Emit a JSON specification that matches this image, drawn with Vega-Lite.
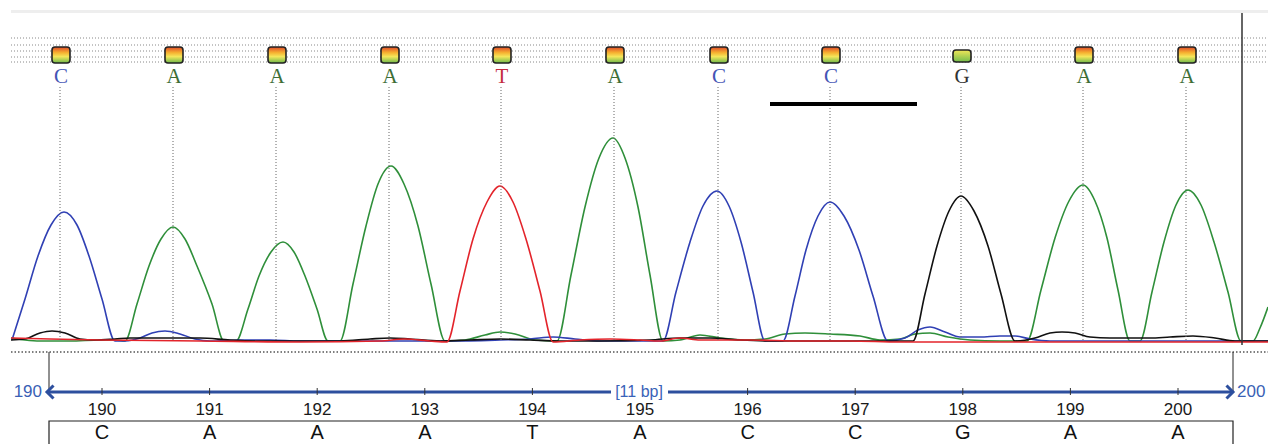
{
"$schema": "https://vega.github.io/schema/vega-lite/v6.json",
"width": 1268, "height": 444, "padding": 0,
"autosize": {"type": "none"},
"background": "white",
"config": {"view": {"stroke": null}},
"datasets": {
"traces": [
{"ch":"A","s":11,"v":4},{"ch":"A","s":25,"v":2},{"ch":"A","s":40,"v":1},{"ch":"A","s":70,"v":1},{"ch":"A","s":100,"v":2},{"ch":"A","s":115,"v":2},{"ch":"A","s":125,"v":1},
{"ch":"A","s":137,"v":38},{"ch":"A","s":149,"v":76},{"ch":"A","s":161,"v":103},{"ch":"A","s":173,"v":115},{"ch":"A","s":185,"v":103},{"ch":"A","s":197,"v":76},{"ch":"A","s":212,"v":38},{"ch":"A","s":224,"v":1},
{"ch":"A","s":236,"v":1},{"ch":"A","s":248,"v":33},{"ch":"A","s":259,"v":66},{"ch":"A","s":271,"v":90},{"ch":"A","s":283,"v":100},{"ch":"A","s":294,"v":90},{"ch":"A","s":305,"v":66},{"ch":"A","s":317,"v":33},{"ch":"A","s":328,"v":1},
{"ch":"A","s":340,"v":1},{"ch":"A","s":353,"v":58},{"ch":"A","s":366,"v":116},{"ch":"A","s":378,"v":158},{"ch":"A","s":391,"v":176},{"ch":"A","s":404,"v":158},{"ch":"A","s":418,"v":116},{"ch":"A","s":431,"v":58},{"ch":"A","s":445,"v":1},
{"ch":"A","s":465,"v":2},{"ch":"A","s":485,"v":7},{"ch":"A","s":500,"v":10},{"ch":"A","s":515,"v":8},{"ch":"A","s":535,"v":2},{"ch":"A","s":557,"v":1},
{"ch":"A","s":571,"v":67},{"ch":"A","s":585,"v":135},{"ch":"A","s":599,"v":184},{"ch":"A","s":613,"v":204},{"ch":"A","s":625,"v":184},{"ch":"A","s":638,"v":135},{"ch":"A","s":650,"v":67},{"ch":"A","s":663,"v":1},
{"ch":"A","s":680,"v":2},{"ch":"A","s":700,"v":7},{"ch":"A","s":720,"v":4},{"ch":"A","s":745,"v":2},{"ch":"A","s":765,"v":3},{"ch":"A","s":785,"v":8},{"ch":"A","s":805,"v":9},{"ch":"A","s":830,"v":8},{"ch":"A","s":860,"v":6},{"ch":"A","s":880,"v":2},{"ch":"A","s":900,"v":3},{"ch":"A","s":915,"v":8},{"ch":"A","s":930,"v":9},{"ch":"A","s":948,"v":5},{"ch":"A","s":970,"v":2},{"ch":"A","s":1000,"v":1},{"ch":"A","s":1027,"v":1},
{"ch":"A","s":1041,"v":52},{"ch":"A","s":1055,"v":104},{"ch":"A","s":1069,"v":141},{"ch":"A","s":1083,"v":157},{"ch":"A","s":1095,"v":141},{"ch":"A","s":1107,"v":104},{"ch":"A","s":1118,"v":52},{"ch":"A","s":1130,"v":1},
{"ch":"A","s":1140,"v":1},{"ch":"A","s":1152,"v":50},{"ch":"A","s":1164,"v":100},{"ch":"A","s":1176,"v":137},{"ch":"A","s":1188,"v":152},{"ch":"A","s":1201,"v":137},{"ch":"A","s":1214,"v":100},{"ch":"A","s":1228,"v":50},{"ch":"A","s":1241,"v":1},
{"ch":"A","s":1253,"v":1},{"ch":"A","s":1260,"v":14},{"ch":"A","s":1268,"v":35},
{"ch":"C","s":12,"v":2},{"ch":"C","s":25,"v":43},{"ch":"C","s":38,"v":86},{"ch":"C","s":51,"v":117},{"ch":"C","s":64,"v":130},{"ch":"C","s":77,"v":117},{"ch":"C","s":89,"v":86},{"ch":"C","s":102,"v":43},{"ch":"C","s":115,"v":1},
{"ch":"C","s":125,"v":1},{"ch":"C","s":140,"v":4},{"ch":"C","s":152,"v":9},{"ch":"C","s":165,"v":11},{"ch":"C","s":180,"v":8},{"ch":"C","s":195,"v":3},{"ch":"C","s":210,"v":1},{"ch":"C","s":240,"v":2},{"ch":"C","s":270,"v":2},{"ch":"C","s":300,"v":1},{"ch":"C","s":350,"v":1},{"ch":"C","s":400,"v":1},{"ch":"C","s":450,"v":1},{"ch":"C","s":500,"v":2},{"ch":"C","s":530,"v":3},{"ch":"C","s":553,"v":5},{"ch":"C","s":575,"v":3},{"ch":"C","s":600,"v":1},{"ch":"C","s":640,"v":1},{"ch":"C","s":663,"v":1},
{"ch":"C","s":676,"v":50},{"ch":"C","s":690,"v":100},{"ch":"C","s":703,"v":136},{"ch":"C","s":717,"v":151},{"ch":"C","s":729,"v":136},{"ch":"C","s":741,"v":100},{"ch":"C","s":753,"v":50},{"ch":"C","s":765,"v":1},
{"ch":"C","s":783,"v":1},{"ch":"C","s":795,"v":46},{"ch":"C","s":806,"v":92},{"ch":"C","s":818,"v":126},{"ch":"C","s":830,"v":140},{"ch":"C","s":844,"v":126},{"ch":"C","s":859,"v":92},{"ch":"C","s":873,"v":46},{"ch":"C","s":888,"v":1},
{"ch":"C","s":905,"v":4},{"ch":"C","s":918,"v":12},{"ch":"C","s":930,"v":15},{"ch":"C","s":945,"v":10},{"ch":"C","s":960,"v":5},{"ch":"C","s":980,"v":5},{"ch":"C","s":1000,"v":6},{"ch":"C","s":1015,"v":6},{"ch":"C","s":1030,"v":3},{"ch":"C","s":1050,"v":1},{"ch":"C","s":1150,"v":1},{"ch":"C","s":1268,"v":1},
{"ch":"G","s":11,"v":2},{"ch":"G","s":25,"v":3},{"ch":"G","s":40,"v":9},{"ch":"G","s":52,"v":11},{"ch":"G","s":65,"v":9},{"ch":"G","s":80,"v":3},{"ch":"G","s":95,"v":2},{"ch":"G","s":115,"v":3},{"ch":"G","s":130,"v":4},{"ch":"G","s":160,"v":4},{"ch":"G","s":200,"v":4},{"ch":"G","s":230,"v":2},{"ch":"G","s":260,"v":1},{"ch":"G","s":300,"v":1},{"ch":"G","s":340,"v":1},{"ch":"G","s":370,"v":3},{"ch":"G","s":390,"v":4},{"ch":"G","s":410,"v":3},{"ch":"G","s":440,"v":1},{"ch":"G","s":470,"v":2},{"ch":"G","s":500,"v":3},{"ch":"G","s":530,"v":2},{"ch":"G","s":560,"v":1},{"ch":"G","s":600,"v":1},{"ch":"G","s":650,"v":2},{"ch":"G","s":680,"v":4},{"ch":"G","s":710,"v":4},{"ch":"G","s":740,"v":2},{"ch":"G","s":770,"v":1},{"ch":"G","s":800,"v":1},{"ch":"G","s":850,"v":1},{"ch":"G","s":890,"v":1},{"ch":"G","s":913,"v":1},
{"ch":"G","s":925,"v":48},{"ch":"G","s":937,"v":96},{"ch":"G","s":949,"v":131},{"ch":"G","s":961,"v":146},{"ch":"G","s":974,"v":131},{"ch":"G","s":988,"v":96},{"ch":"G","s":1001,"v":48},{"ch":"G","s":1015,"v":1},
{"ch":"G","s":1035,"v":4},{"ch":"G","s":1050,"v":9},{"ch":"G","s":1062,"v":10},{"ch":"G","s":1075,"v":9},{"ch":"G","s":1090,"v":5},{"ch":"G","s":1110,"v":4},{"ch":"G","s":1150,"v":4},{"ch":"G","s":1170,"v":5},{"ch":"G","s":1193,"v":6},{"ch":"G","s":1215,"v":4},{"ch":"G","s":1235,"v":1},{"ch":"G","s":1268,"v":1},
{"ch":"T","s":11,"v":4},{"ch":"T","s":50,"v":3},{"ch":"T","s":100,"v":2},{"ch":"T","s":200,"v":1},{"ch":"T","s":300,"v":0},{"ch":"T","s":380,"v":1},{"ch":"T","s":405,"v":3},{"ch":"T","s":430,"v":1},{"ch":"T","s":447,"v":0},
{"ch":"T","s":460,"v":51},{"ch":"T","s":473,"v":103},{"ch":"T","s":487,"v":140},{"ch":"T","s":500,"v":156},{"ch":"T","s":513,"v":140},{"ch":"T","s":526,"v":103},{"ch":"T","s":540,"v":51},{"ch":"T","s":553,"v":0},
{"ch":"T","s":580,"v":2},{"ch":"T","s":610,"v":3},{"ch":"T","s":640,"v":2},{"ch":"T","s":660,"v":1},{"ch":"T","s":680,"v":4},{"ch":"T","s":700,"v":2},{"ch":"T","s":750,"v":2},{"ch":"T","s":800,"v":1},{"ch":"T","s":850,"v":1},{"ch":"T","s":900,"v":0},{"ch":"T","s":1268,"v":0}
],
"calls": [
{"s":60,"base":"C","q":295},{"s":173,"base":"A","q":295},{"s":276,"base":"A","q":295},{"s":389,"base":"A","q":295},{"s":501,"base":"T","q":295},{"s":614,"base":"A","q":295},{"s":718,"base":"C","q":295},{"s":830,"base":"C","q":295},{"s":961,"base":"G","q":292},{"s":1083,"base":"A","q":295},{"s":1186,"base":"A","q":295}
],
"ruler": [
{"pos":190,"s":102,"b":"C"},{"pos":191,"s":209.6,"b":"A"},{"pos":192,"s":317.2,"b":"A"},{"pos":193,"s":424.8,"b":"A"},{"pos":194,"s":532.4,"b":"T"},{"pos":195,"s":640,"b":"A"},{"pos":196,"s":747.6,"b":"C"},{"pos":197,"s":855.2,"b":"C"},{"pos":198,"s":962.8,"b":"G"},{"pos":199,"s":1070.4,"b":"A"},{"pos":200,"s":1178,"b":"A"}
]
},
"layer": [
{"data": {"name": "traces"},
 "mark": {"type": "line", "strokeWidth": 1.6, "interpolate": "monotone"},
 "encoding": {"x": {"field": "s", "type": "quantitative", "scale": {"domain": [0, 1268], "nice": false, "zero": false}, "axis": null},
  "y": {"field": "v", "type": "quantitative", "scale": {"domain": [-102, 342], "nice": false, "zero": false}, "axis": null},
  "color": {"field": "ch", "type": "nominal", "legend": null, "scale": {"domain": ["A", "C", "G", "T"], "range": ["#2f8f3a", "#3040b4", "#111111", "#e3242b"]}}}},
{"data": {"values": [{"r": 330.5}]},
 "mark": {"type": "rule", "color": "#eeeeee", "strokeWidth": 3},
 "encoding": {"x": {"datum": 11, "type": "quantitative", "axis": null}, "x2": {"datum": 1268},
  "y": {"field": "r", "type": "quantitative", "axis": null}}},
{"data": {"values": [{"r": 304}, {"r": 297}, {"r": 291}, {"r": 285}, {"r": 280}]},
 "mark": {"type": "rule", "color": "#888888", "strokeWidth": 1, "strokeDash": [1, 2]},
 "encoding": {"x": {"datum": 11, "type": "quantitative", "axis": null}, "x2": {"datum": 1268}, "y": {"field": "r", "type": "quantitative", "axis": null}}},
{"data": {"values": [{"r": -10}]},
 "mark": {"type": "rule", "color": "#555555", "strokeWidth": 1.5, "strokeDash": [1.5, 2]},
 "encoding": {"x": {"datum": 11, "type": "quantitative", "axis": null}, "x2": {"datum": 1268}, "y": {"field": "r", "type": "quantitative", "axis": null}}},
{"data": {"name": "calls"},
 "mark": {"type": "rule", "color": "#666666", "strokeWidth": 1, "strokeDash": [1, 2]},
 "encoding": {"x": {"field": "s", "type": "quantitative", "axis": null}, "y": {"datum": 255, "type": "quantitative", "axis": null}, "y2": {"datum": 0}}},
{"data": {"values": [{"s": 1242}]},
 "mark": {"type": "rule", "color": "#333333", "strokeWidth": 1.5},
 "encoding": {"x": {"field": "s", "type": "quantitative", "axis": null}, "y": {"datum": 329, "type": "quantitative", "axis": null}, "y2": {"datum": -3}}},
{"data": {"name": "calls"},
 "transform": [{"filter": "datum.base !== 'G'"}],
 "mark": {"type": "rect", "xOffset": -8, "x2Offset": 10, "cornerRadius": 3, "stroke": "#222222", "strokeWidth": 1.6,
  "fill": {"gradient": "linear", "x1": 0, "y1": 0, "x2": 0, "y2": 1, "stops": [{"offset": 0, "color": "#e04a2a"}, {"offset": 0.35, "color": "#f6b030"}, {"offset": 0.6, "color": "#f4e65a"}, {"offset": 1, "color": "#6cb84a"}]}},
 "encoding": {"x": {"field": "s", "type": "quantitative", "axis": null}, "x2": {"field": "s"}, "y": {"field": "q", "type": "quantitative", "axis": null}, "y2": {"datum": 279}}},
{"data": {"name": "calls"},
 "transform": [{"filter": "datum.base === 'G'"}],
 "mark": {"type": "rect", "xOffset": -8, "x2Offset": 10, "cornerRadius": 3, "stroke": "#222222", "strokeWidth": 1.6,
  "fill": {"gradient": "linear", "x1": 0, "y1": 0, "x2": 0, "y2": 1, "stops": [{"offset": 0, "color": "#f2e658"}, {"offset": 1, "color": "#72bc4c"}]}},
 "encoding": {"x": {"field": "s", "type": "quantitative", "axis": null}, "x2": {"field": "s"}, "y": {"field": "q", "type": "quantitative", "axis": null}, "y2": {"datum": 280}}},
{"data": {"name": "calls"},
 "transform": [{"filter": "datum.base === 'A'"}],
 "mark": {"type": "text", "font": "Liberation Serif", "fontSize": 21, "baseline": "middle", "align": "center", "dx": 1, "color": "#3d6e36"},
 "encoding": {"x": {"field": "s", "type": "quantitative", "axis": null}, "y": {"datum": 265, "type": "quantitative", "axis": null}, "text": {"field": "base"}}},
{"data": {"name": "calls"},
 "transform": [{"filter": "datum.base === 'C'"}],
 "mark": {"type": "text", "font": "Liberation Serif", "fontSize": 21, "baseline": "middle", "align": "center", "dx": 1, "color": "#4455b5"},
 "encoding": {"x": {"field": "s", "type": "quantitative", "axis": null}, "y": {"datum": 265, "type": "quantitative", "axis": null}, "text": {"field": "base"}}},
{"data": {"name": "calls"},
 "transform": [{"filter": "datum.base === 'G'"}],
 "mark": {"type": "text", "font": "Liberation Serif", "fontSize": 21, "baseline": "middle", "align": "center", "dx": 1, "color": "#333333"},
 "encoding": {"x": {"field": "s", "type": "quantitative", "axis": null}, "y": {"datum": 265, "type": "quantitative", "axis": null}, "text": {"field": "base"}}},
{"data": {"name": "calls"},
 "transform": [{"filter": "datum.base === 'T'"}],
 "mark": {"type": "text", "font": "Liberation Serif", "fontSize": 21, "baseline": "middle", "align": "center", "dx": 1, "color": "#c42b3f"},
 "encoding": {"x": {"field": "s", "type": "quantitative", "axis": null}, "y": {"datum": 265, "type": "quantitative", "axis": null}, "text": {"field": "base"}}},
{"data": {"values": [{"a": 770, "b": 917}]},
 "mark": {"type": "rule", "color": "#000000", "strokeWidth": 4},
 "encoding": {"x": {"field": "a", "type": "quantitative", "axis": null}, "x2": {"field": "b"}, "y": {"datum": 238, "type": "quantitative", "axis": null}}},
{"data": {"values": [{"s": 49}, {"s": 1233}]},
 "mark": {"type": "rule", "color": "#222222", "strokeWidth": 1},
 "encoding": {"x": {"field": "s", "type": "quantitative", "axis": null}, "y": {"datum": -10, "type": "quantitative", "axis": null}, "y2": {"datum": -50}}},
{"data": {"values": [{"a": 47, "b": 1233}]},
 "mark": {"type": "rule", "color": "#2d4f9e", "strokeWidth": 3},
 "encoding": {"x": {"field": "a", "type": "quantitative", "axis": null}, "x2": {"field": "b"}, "y": {"datum": -50, "type": "quantitative", "axis": null}}},
{"data": {"values": [{"s": 47}]},
 "mark": {"type": "point", "shape": "M1,-1L0,0L1,1", "size": 170, "filled": false, "stroke": "#2d4f9e", "strokeWidth": 3, "opacity": 1},
 "encoding": {"x": {"field": "s", "type": "quantitative", "axis": null}, "y": {"datum": -50, "type": "quantitative", "axis": null}}},
{"data": {"values": [{"s": 1233}]},
 "mark": {"type": "point", "shape": "M-1,-1L0,0L-1,1", "size": 170, "filled": false, "stroke": "#2d4f9e", "strokeWidth": 3, "opacity": 1},
 "encoding": {"x": {"field": "s", "type": "quantitative", "axis": null}, "y": {"datum": -50, "type": "quantitative", "axis": null}}},
{"data": {"name": "ruler"},
 "mark": {"type": "rule", "color": "#333333", "strokeWidth": 1},
 "encoding": {"x": {"field": "s", "type": "quantitative", "axis": null}, "y": {"datum": -46, "type": "quantitative", "axis": null}, "y2": {"datum": -53}}},
{"data": {"values": [{"a": 611, "b": 668}]},
 "mark": {"type": "rect", "fill": "#ffffff"},
 "encoding": {"x": {"field": "a", "type": "quantitative", "axis": null}, "x2": {"field": "b"}, "y": {"datum": -42, "type": "quantitative", "axis": null}, "y2": {"datum": -59}}},
{"data": {"values": [{"s": 639, "t": "[11 bp]"}]},
 "mark": {"type": "text", "font": "Liberation Sans", "fontSize": 16, "color": "#3a62b8", "baseline": "middle", "align": "center"},
 "encoding": {"x": {"field": "s", "type": "quantitative", "axis": null}, "y": {"datum": -50, "type": "quantitative", "axis": null}, "text": {"field": "t"}}},
{"data": {"values": [{"s": 42, "t": "190"}]},
 "mark": {"type": "text", "font": "Liberation Sans", "fontSize": 17, "color": "#3a5fb5", "baseline": "middle", "align": "right"},
 "encoding": {"x": {"field": "s", "type": "quantitative", "axis": null}, "y": {"datum": -50, "type": "quantitative", "axis": null}, "text": {"field": "t"}}},
{"data": {"values": [{"s": 1237, "t": "200"}]},
 "mark": {"type": "text", "font": "Liberation Sans", "fontSize": 17, "color": "#3a5fb5", "baseline": "middle", "align": "left"},
 "encoding": {"x": {"field": "s", "type": "quantitative", "axis": null}, "y": {"datum": -50, "type": "quantitative", "axis": null}, "text": {"field": "t"}}},
{"data": {"name": "ruler"},
 "mark": {"type": "text", "font": "Liberation Sans", "fontSize": 17, "color": "#1a1a1a", "baseline": "middle", "align": "center"},
 "encoding": {"x": {"field": "s", "type": "quantitative", "axis": null}, "y": {"datum": -68, "type": "quantitative", "axis": null}, "text": {"field": "pos"}}},
{"data": {"values": [{"a": 49, "b": 1233}]},
 "mark": {"type": "rect", "fill": "transparent", "stroke": "#222222", "strokeWidth": 1.2},
 "encoding": {"x": {"field": "a", "type": "quantitative", "axis": null}, "x2": {"field": "b"}, "y": {"datum": -79, "type": "quantitative", "axis": null}, "y2": {"datum": -106}}},
{"data": {"name": "ruler"},
 "mark": {"type": "text", "font": "Liberation Sans", "fontSize": 20, "color": "#111111", "baseline": "middle", "align": "center"},
 "encoding": {"x": {"field": "s", "type": "quantitative", "axis": null}, "y": {"datum": -91, "type": "quantitative", "axis": null}, "text": {"field": "b"}}}
]
}
